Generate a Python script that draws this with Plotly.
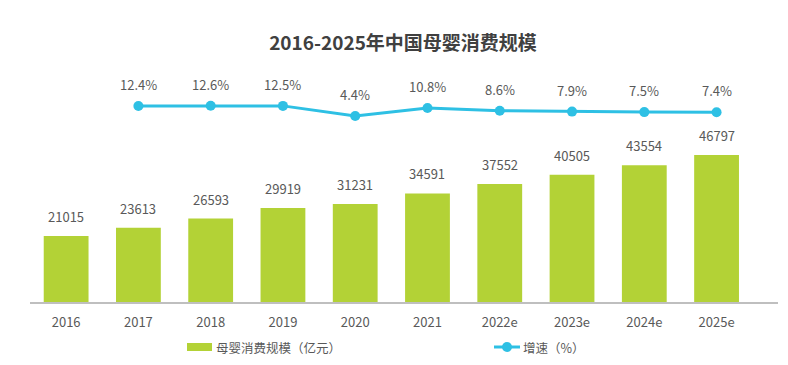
import plotly.graph_objects as go

years = ["2016", "2017", "2018", "2019", "2020", "2021", "2022e", "2023e", "2024e", "2025e"]
scale = [21015, 23613, 26593, 29919, 31231, 34591, 37552, 40505, 43554, 46797]
growth_years = years[1:]
growth = [12.4, 12.6, 12.5, 4.4, 10.8, 8.6, 7.9, 7.5, 7.4]
legend_names = ["母婴消费规模（亿元）", "增速（%）"]

GREEN = "#B3D236"
CYAN = "#2EC0E4"
TXT = "#595959"
FONT = "Noto Sans CJK SC"

# plot-area geometry (px) for converting legend placement
L, R, T, B = 30, 778, 60, 302
def px(xp):
    return (xp - L) / (R - L)
def py(yp):
    return (B - yp) / (B - T)

idx = list(range(len(years)))
gidx = idx[1:]

fig = go.Figure()
fig.add_trace(go.Bar(
    x=idx, y=scale, name=legend_names[0],
    marker=dict(color=GREEN, line=dict(width=0)),
    yaxis="y", hoverinfo="skip",
))
fig.add_trace(go.Scatter(
    x=gidx, y=growth, name=legend_names[1], mode="lines+markers",
    line=dict(color=CYAN, width=3), marker=dict(color=CYAN, size=10),
    yaxis="y2", hoverinfo="skip",
))

for xv, v in zip(idx, scale):
    fig.add_annotation(x=xv, y=v, yref="y", text=str(v), showarrow=False,
                       yanchor="bottom", yshift=8, font=dict(size=13, color=TXT, family=FONT))
for xv, v in zip(gidx, growth):
    fig.add_annotation(x=xv, y=v, yref="y2", text=f"{v}%", showarrow=False,
                       yanchor="bottom", yshift=10, font=dict(size=13, color=TXT, family=FONT))

# manual legend
fig.add_shape(type="rect", xref="paper", yref="paper",
              x0=px(187), x1=px(212), y0=py(351), y1=py(343),
              fillcolor=GREEN, line=dict(width=0))
fig.add_annotation(xref="paper", yref="paper", x=px(214), y=py(347), xanchor="left", yanchor="middle",
                   text=legend_names[0], showarrow=False, font=dict(size=12.5, color=TXT, family=FONT))
fig.add_shape(type="line", xref="paper", yref="paper",
              x0=px(494), x1=px(520), y0=py(347), y1=py(347),
              line=dict(color=CYAN, width=3))
fig.add_shape(type="circle", xref="paper", yref="paper",
              x0=px(502), x1=px(512), y0=py(352), y1=py(342),
              fillcolor=CYAN, line=dict(width=0))
fig.add_annotation(xref="paper", yref="paper", x=px(521), y=py(347), xanchor="left", yanchor="middle",
                   text=legend_names[1], showarrow=False, font=dict(size=12.5, color=TXT, family=FONT))

fig.update_layout(
    width=788, height=365,
    margin=dict(l=L, r=788 - R, t=T, b=365 - B, autoexpand=False),
    paper_bgcolor="white", plot_bgcolor="white",
    font=dict(family=FONT, size=13, color=TXT),
    title=dict(text="<b>2016-2025年中国母婴消费规模</b>", x=403/788, xanchor="center",
               y=1 - 43/365, yanchor="middle", font=dict(size=19, color="#404040", family=FONT)),
    bargap=0.38,
    showlegend=False,
    xaxis=dict(range=[-0.5, 9.85], showline=True, linecolor="#BFBFBF", linewidth=2,
               tickmode="array", tickvals=idx, ticktext=years,
               showgrid=False, zeroline=False, ticks="outside", ticklen=7, tickcolor="rgba(0,0,0,0)",
               tickfont=dict(size=13, color=TXT, family=FONT)),
    yaxis=dict(range=[0, 77070], visible=False, showgrid=False, zeroline=False),
    yaxis2=dict(range=[-144.4, 49.2], overlaying="y", visible=False, showgrid=False, zeroline=False),
)

fig.write_html("out.html", config={"displayModeBar": False},
               post_script="document.body.style.margin='0px';")
